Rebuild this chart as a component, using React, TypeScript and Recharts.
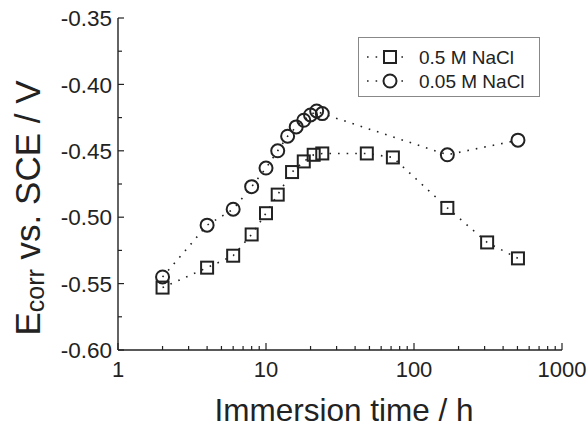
import React from 'react';
import { LineChart, Line, XAxis, YAxis, Legend } from 'recharts';

// 0.5 M NaCl (squares)
const highTimes = [2, 4, 6, 8, 10, 12, 15, 18, 21, 24, 48, 72, 168, 312, 504];
const highValues = [-0.553, -0.538, -0.529, -0.513, -0.497, -0.483, -0.466, -0.458, -0.453, -0.452, -0.452, -0.455, -0.493, -0.519, -0.531];
// 0.05 M NaCl (circles)
const lowTimes = [2, 4, 6, 8, 10, 12, 14, 16, 18, 20, 22, 24, 168, 504];
const lowValues = [-0.545, -0.506, -0.494, -0.477, -0.463, -0.45, -0.439, -0.432, -0.427, -0.423, -0.42, -0.422, -0.453, -0.442];

const seriesNames = ['0.5 M NaCl', '0.05 M NaCl'];
const xMajorTicks = [1, 10, 100, 1000];
const xMinorTicks = [2, 3, 4, 5, 6, 7, 8, 9, 20, 30, 40, 50, 60, 70, 80, 90, 200, 300, 400, 500, 600, 700, 800, 900];
const yMajorTicks = [-0.6, -0.55, -0.5, -0.45, -0.4, -0.35];
const yMinorTicks = [-0.575, -0.525, -0.475, -0.425, -0.375];
const xTitle = 'Immersion time / h';

const highData = highTimes.map((t, i) => ({ t, v: highValues[i] }));
const lowData = lowTimes.map((t, i) => ({ t, v: lowValues[i] }));
const xAllTicks = [...xMajorTicks, ...xMinorTicks].sort((a, b) => a - b);
const yAllTicks = [...yMajorTicks, ...yMinorTicks].sort((a, b) => a - b);

const INK = '#222';
const FONT = '"Liberation Sans", Arial, Helvetica, sans-serif';
const DASH = '1.6 7';

const isXMajor = (v: number) => xMajorTicks.includes(v);
const isYMajor = (v: number) => yMajorTicks.some((m) => Math.abs(m - v) < 1e-6);

const BottomTick = (props: any) => {
  const { x, y, payload } = props;
  const major = isXMajor(payload.value);
  return (
    <g>
      <line x1={x} x2={x} y1={y} y2={y - (major ? 7 : 4)} stroke={INK} strokeWidth={1.2} />
      {major && (
        <text x={x} y={y + 27} textAnchor="middle" fontSize={22} fontFamily={FONT} fill={INK}>
          {payload.value}
        </text>
      )}
    </g>
  );
};

const TopTick = (props: any) => {
  const { x, y, payload } = props;
  const major = isXMajor(payload.value);
  return <line x1={x} x2={x} y1={y} y2={y + (major ? 7 : 4)} stroke={INK} strokeWidth={1.2} />;
};

const LeftTick = (props: any) => {
  const { x, y, payload } = props;
  const major = isYMajor(payload.value);
  return (
    <g>
      <line x1={x} x2={x + (major ? 6 : 4)} y1={y} y2={y} stroke={INK} strokeWidth={1.2} />
      {major && (
        <text x={x - 6} y={y} dy="0.36em" textAnchor="end" fontSize={22.5} fontFamily={FONT} fill={INK}>
          {Number(payload.value).toFixed(2)}
        </text>
      )}
    </g>
  );
};

const RightTick = (props: any) => {
  const { x, y, payload } = props;
  const major = isYMajor(payload.value);
  return <line x1={x} x2={x - (major ? 6 : 4)} y1={y} y2={y} stroke={INK} strokeWidth={1.2} />;
};

const SquareDot = (p: any) => {
  if (p.cx == null || p.cy == null) return <g key={p.index} />;
  return (
    <rect key={p.index} x={p.cx - 6} y={p.cy - 6} width={12} height={12} fill="none" stroke={INK} strokeWidth={2} />
  );
};

const CircleDot = (p: any) => {
  if (p.cx == null || p.cy == null) return <g key={p.index} />;
  return <circle key={p.index} cx={p.cx} cy={p.cy} r={6.5} fill="none" stroke={INK} strokeWidth={2} />;
};

const LegendBox = () => (
  <svg width={182} height={60} style={{ display: 'block' }}>
    <rect x={0.5} y={0.5} width={181} height={59} fill="#fff" stroke="#888" strokeWidth={1} />
    {seriesNames.map((name, i) => {
      const cy = 20 + i * 24;
      return (
        <g key={name}>
          <line x1={9} x2={50} y1={cy} y2={cy} stroke={INK} strokeWidth={1.6} strokeDasharray={DASH} />
          {i === 0 ? (
            <rect x={26} y={cy - 6} width={12} height={12} fill="#fff" stroke={INK} strokeWidth={2} />
          ) : (
            <circle cx={32} cy={cy} r={6.5} fill="#fff" stroke={INK} strokeWidth={2} />
          )}
          <text x={61} y={cy + 6.5} fontSize={19} fontFamily={FONT} fill={INK}>
            {name}
          </text>
        </g>
      );
    })}
  </svg>
);

const YTitle = (props: any) => {
  const vb = props.viewBox || { x: 0, y: 18, width: 118, height: 332 };
  const cy = vb.y + vb.height / 2 + 24;
  return (
    <text transform="rotate(-90)" x={-cy} y={40} textAnchor="middle" fontSize={35} fontFamily={FONT} fill={INK}>
      E<tspan fontSize={25} dy={4}>corr</tspan>
      <tspan dy={-4}> vs. SCE / V</tspan>
    </text>
  );
};

const XTitle = (props: any) => {
  const vb = props.viewBox || { x: 118, y: 350, width: 444, height: 78 };
  return (
    <text x={vb.x + vb.width / 2 + 4} y={vb.y + 71} textAnchor="middle" fontSize={31.5} fontFamily={FONT} fill={INK}>
      {xTitle}
    </text>
  );
};

export default function App() {
  return (
    <div style={{ width: 588, height: 428, background: '#fff' }}>
      <style>{`html, body { margin: 0; padding: 0; background: #fff; }`}</style>
      <LineChart width={588} height={428} margin={{ top: 18, right: 26, left: 0, bottom: 0 }}>
        <XAxis
          xAxisId="b"
          dataKey="t"
          type="number"
          scale="log"
          domain={[1, 1000]}
          allowDataOverflow
          ticks={xAllTicks}
          interval={0}
          orientation="bottom"
          height={78}
          tickSize={0}
          tickMargin={0}
          tickLine={false}
          tick={<BottomTick />}
          axisLine={{ stroke: INK, strokeWidth: 1.4 }}
          label={<XTitle />}
        />
        <XAxis
          xAxisId="top"
          dataKey="t"
          type="number"
          scale="log"
          domain={[1, 1000]}
          allowDataOverflow
          ticks={xAllTicks}
          interval={0}
          orientation="top"
          height={0}
          tickSize={0}
          tickMargin={0}
          tickLine={false}
          tick={<TopTick />}
          axisLine={{ stroke: INK, strokeWidth: 1.4 }}
        />
        <YAxis
          yAxisId="l"
          type="number"
          domain={[-0.6, -0.35]}
          allowDataOverflow
          ticks={yAllTicks}
          interval={0}
          orientation="left"
          width={118}
          tickSize={0}
          tickMargin={0}
          tickLine={false}
          tick={<LeftTick />}
          axisLine={{ stroke: INK, strokeWidth: 1.4 }}
          label={<YTitle />}
        />
        <YAxis
          yAxisId="r"
          type="number"
          domain={[-0.6, -0.35]}
          allowDataOverflow
          ticks={yAllTicks}
          interval={0}
          orientation="right"
          width={0}
          tickSize={0}
          tickMargin={0}
          tickLine={false}
          tick={<RightTick />}
          axisLine={{ stroke: INK, strokeWidth: 1.4 }}
        />
        <Legend
          layout="vertical"
          align="center"
          verticalAlign="middle"
          content={<LegendBox />}
          wrapperStyle={{ position: 'absolute', left: 358, top: 37, width: 182, height: 60 }}
        />
        <Line
          xAxisId="b"
          yAxisId="l"
          data={highData}
          dataKey="v"
          name={seriesNames[0]}
          stroke={INK}
          strokeWidth={1.6}
          strokeDasharray={DASH}
          dot={SquareDot}
          activeDot={false}
          isAnimationActive={false}
        />
        <Line
          xAxisId="b"
          yAxisId="l"
          data={lowData}
          dataKey="v"
          name={seriesNames[1]}
          stroke={INK}
          strokeWidth={1.6}
          strokeDasharray={DASH}
          dot={CircleDot}
          activeDot={false}
          isAnimationActive={false}
        />
      </LineChart>
    </div>
  );
}
